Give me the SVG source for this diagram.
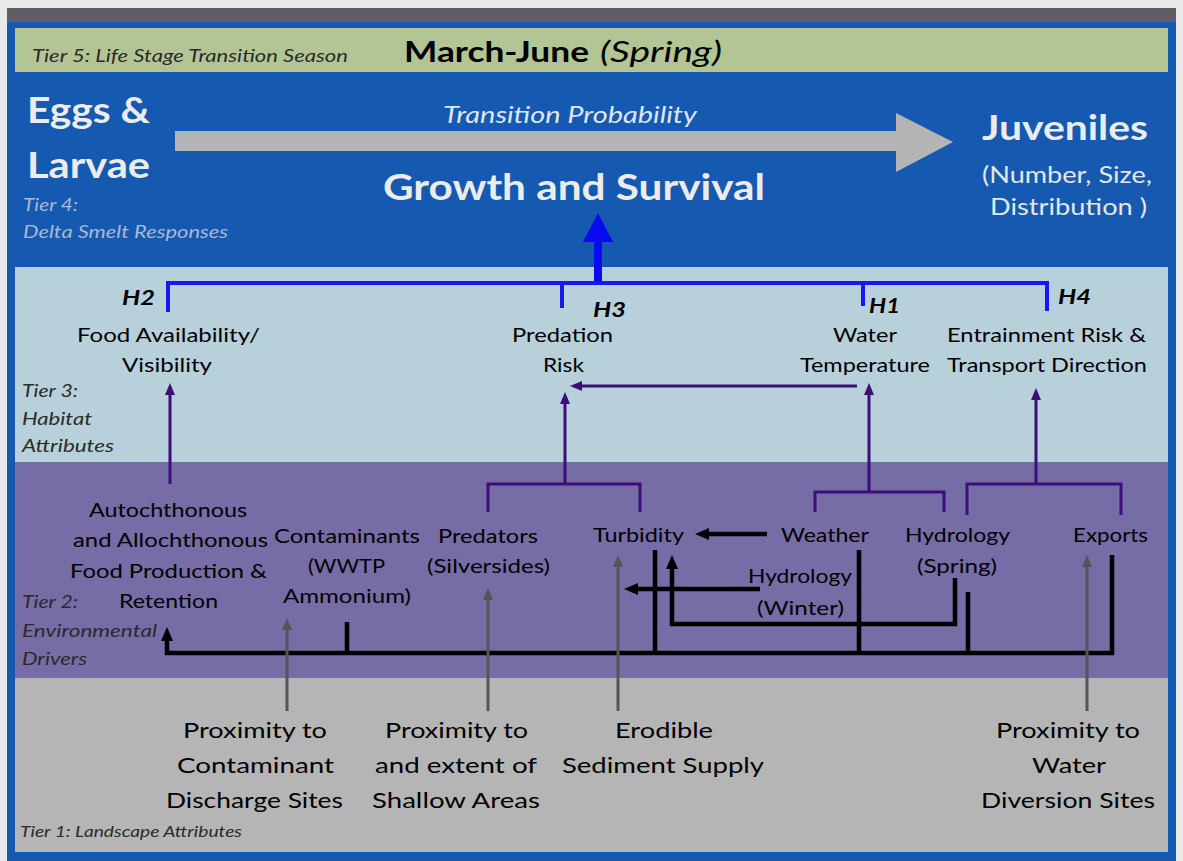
<svg xmlns="http://www.w3.org/2000/svg" width="1183" height="861" viewBox="0 0 1183 861">
<style>
text { font-family: Lato, "Liberation Sans", Arial, sans-serif; }
.lbl { font-size: 20px; fill: #000; }
.lnd { font-size: 22px; fill: #000; }
.tier { font-size: 17px; font-style: italic; fill: #2a2a2a; }
.h { font-size: 21px; font-weight: bold; font-style: italic; fill: #000; }
.big { font-weight: bold; fill: #ececec; }
.blue { fill: none; stroke: #1818ee; stroke-width: 4; }
.pur { fill: none; stroke: #3d0d7a; stroke-width: 3; }
.blk { fill: none; stroke: #000; stroke-width: 4.5; }
.gry { fill: none; stroke: #555; stroke-width: 3; }
</style>
<defs>
<marker id="mp" viewBox="0 0 12 12" refX="6" refY="6" markerWidth="12" markerHeight="12" markerUnits="userSpaceOnUse" orient="auto"><path d="M0,1 L12,6 L0,11 z" fill="#3d0d7a"/></marker>
<marker id="mb" viewBox="0 0 14 14" refX="7" refY="7" markerWidth="14" markerHeight="14" markerUnits="userSpaceOnUse" orient="auto"><path d="M0,1 L14,7 L0,13 z" fill="#000"/></marker>
<marker id="mg" viewBox="0 0 12 10" refX="6" refY="5" markerWidth="12" markerHeight="10" markerUnits="userSpaceOnUse" orient="auto"><path d="M0,0 L12,5 L0,10 z" fill="#555"/></marker>
</defs>

<g id="background">
<rect x="0" y="0" width="1183" height="861" fill="#e9e9e9"/>
<rect x="7" y="8" width="1169" height="14" fill="#5e5f64"/>
<rect x="7" y="22" width="1169" height="839" fill="#1559b0"/>
<rect x="15" y="28" width="1153" height="44" fill="#b3c595"/>
<rect x="15" y="267" width="1153" height="195" fill="#b8d0d9"/>
<rect x="15" y="462" width="1153" height="216" fill="#766ca6"/>
<rect x="15" y="678" width="1153" height="174" fill="#b5b5b5"/>
</g>

<g id="tier-labels">
<text class="tier" x="32" y="62" textLength="316" lengthAdjust="spacingAndGlyphs">Tier 5: Life Stage Transition Season</text>
<text class="tier" x="23" y="211" textLength="55" lengthAdjust="spacingAndGlyphs" style="fill:#a9bad2">Tier 4:</text>
<text class="tier" x="23" y="238" textLength="205" lengthAdjust="spacingAndGlyphs" style="fill:#a9bad2">Delta Smelt Responses</text>
<text class="tier" x="22" y="397" textLength="56" lengthAdjust="spacingAndGlyphs">Tier 3:</text>
<text class="tier" x="22" y="425" textLength="70" lengthAdjust="spacingAndGlyphs">Habitat</text>
<text class="tier" x="22" y="452" textLength="92" lengthAdjust="spacingAndGlyphs">Attributes</text>
<text class="tier" x="22" y="608" textLength="56" lengthAdjust="spacingAndGlyphs">Tier 2:</text>
<text class="tier" x="22" y="637" textLength="135" lengthAdjust="spacingAndGlyphs">Environmental</text>
<text class="tier" x="22" y="665" textLength="65" lengthAdjust="spacingAndGlyphs">Drivers</text>
<text class="tier" x="20" y="837" textLength="222" lengthAdjust="spacingAndGlyphs" style="font-size:15px">Tier 1: Landscape Attributes</text>
</g>

<g id="season">
<text x="404" y="62" textLength="185" lengthAdjust="spacingAndGlyphs" style="font-size:28px;font-weight:bold;fill:#000">March-June</text>
<text x="600" y="62" textLength="122" lengthAdjust="spacingAndGlyphs" style="font-size:28px;font-style:italic;fill:#000">(Spring)</text>
</g>

<g id="connectors">
<path d="M175,131 H896 V113 L953,142 L896,172 V151 H175 Z" fill="#b4b4b4"/>
<rect x="594" y="240" width="8" height="44" fill="#0a0af0"/>
<path d="M583,242 L613,242 L598,213 Z" fill="#0a0af0"/>
<path class="blue" d="M168,312 V283 H1047 V311"/>
<path class="blue" d="M562,283 V308"/>
<path class="blue" d="M863,283 V306"/>

<path class="pur" d="M170,484 V389" marker-end="url(#mp)"/>
<path class="pur" d="M488,512 V484 H640 V512"/>
<path class="pur" d="M565,484 V398" marker-end="url(#mp)"/>
<path class="pur" d="M857,386 H576" marker-end="url(#mp)"/>
<path class="pur" d="M815,512 V492 H944 V512"/>
<path class="pur" d="M869,492 V389" marker-end="url(#mp)"/>
<path class="pur" d="M967,515 V484 H1121 V515"/>
<path class="pur" d="M1036,484 V394" marker-end="url(#mp)"/>

<path class="blk" d="M767,534 H702" marker-end="url(#mb)"/>
<path class="blk" d="M1112,555 V653 H167 V634" marker-end="url(#mb)"/>
<path class="blk" d="M347,622 V653"/>
<path class="blk" d="M655,550 V653"/>
<path class="blk" d="M859,550 V653"/>
<path class="blk" d="M968,592 V653"/>
<path class="blk" d="M955,578 V624 H672 V562" marker-end="url(#mb)"/>
<path class="blk" d="M760,589 H631" marker-end="url(#mb)"/>

<path class="gry" d="M287,711 V624" marker-end="url(#mg)"/>
<path class="gry" d="M488,711 V594" marker-end="url(#mg)"/>
<path class="gry" d="M618,711 V561" marker-end="url(#mg)"/>
<path class="gry" d="M1087,711 V561" marker-end="url(#mg)"/>
</g>

<g id="eggs-larvae">
<text class="big" x="27" y="123" textLength="123" lengthAdjust="spacingAndGlyphs" style="font-size:36px">Eggs &amp;</text>
<text class="big" x="27" y="178" textLength="123" lengthAdjust="spacingAndGlyphs" style="font-size:36px">Larvae</text>
</g>
<g id="transition">
<text x="443" y="123" textLength="254" lengthAdjust="spacingAndGlyphs" style="font-size:23px;font-style:italic;fill:#dde6f2">Transition Probability</text>
</g>
<g id="growth-survival">
<text class="big" x="383" y="200" textLength="382" lengthAdjust="spacingAndGlyphs" style="font-size:37px">Growth and Survival</text>
</g>
<g id="juveniles">
<text class="big" x="982" y="140" textLength="166" lengthAdjust="spacingAndGlyphs" style="font-size:35px">Juveniles</text>
<text x="982" y="183" textLength="170" lengthAdjust="spacingAndGlyphs" style="font-size:23px;fill:#e6e6e6">(Number, Size,</text>
<text x="990" y="215" textLength="157" lengthAdjust="spacingAndGlyphs" style="font-size:23px;fill:#e6e6e6">Distribution )</text>
</g>

<g id="food-availability">
<text class="h" x="122" y="305" textLength="33" lengthAdjust="spacingAndGlyphs">H2</text>
<text class="lbl" x="77" y="342" textLength="183" lengthAdjust="spacingAndGlyphs">Food Availability/</text>
<text class="lbl" x="122" y="372" textLength="90" lengthAdjust="spacingAndGlyphs">Visibility</text>
</g>
<g id="predation-risk">
<text class="h" x="593" y="317" textLength="33" lengthAdjust="spacingAndGlyphs">H3</text>
<text class="lbl" x="512" y="342" textLength="101" lengthAdjust="spacingAndGlyphs">Predation</text>
<text class="lbl" x="543" y="372" textLength="41" lengthAdjust="spacingAndGlyphs">Risk</text>
</g>
<g id="water-temperature">
<text class="h" x="869" y="313" textLength="31" lengthAdjust="spacingAndGlyphs">H1</text>
<text class="lbl" x="833" y="342" textLength="64" lengthAdjust="spacingAndGlyphs">Water</text>
<text class="lbl" x="800" y="372" textLength="130" lengthAdjust="spacingAndGlyphs">Temperature</text>
</g>
<g id="entrainment">
<text class="h" x="1058" y="304" textLength="33" lengthAdjust="spacingAndGlyphs">H4</text>
<text class="lbl" x="947" y="342" textLength="199" lengthAdjust="spacingAndGlyphs">Entrainment Risk &amp;</text>
<text class="lbl" x="947" y="372" textLength="200" lengthAdjust="spacingAndGlyphs">Transport Direction</text>
</g>

<g id="food-production">
<text class="lbl" x="89" y="517" textLength="158" lengthAdjust="spacingAndGlyphs">Autochthonous</text>
<text class="lbl" x="73" y="547" textLength="195" lengthAdjust="spacingAndGlyphs">and Allochthonous</text>
<text class="lbl" x="70" y="578" textLength="197" lengthAdjust="spacingAndGlyphs">Food Production &amp;</text>
<text class="lbl" x="119" y="608" textLength="99" lengthAdjust="spacingAndGlyphs">Retention</text>
</g>
<g id="contaminants">
<text class="lbl" x="274" y="543" textLength="146" lengthAdjust="spacingAndGlyphs">Contaminants</text>
<text class="lbl" x="308" y="573" textLength="77" lengthAdjust="spacingAndGlyphs">(WWTP</text>
<text class="lbl" x="283" y="603" textLength="128" lengthAdjust="spacingAndGlyphs">Ammonium)</text>
</g>
<g id="predators">
<text class="lbl" x="438" y="543" textLength="100" lengthAdjust="spacingAndGlyphs">Predators</text>
<text class="lbl" x="427" y="573" textLength="123" lengthAdjust="spacingAndGlyphs">(Silversides)</text>
</g>
<g id="turbidity">
<text class="lbl" x="593" y="542" textLength="91" lengthAdjust="spacingAndGlyphs">Turbidity</text>
</g>
<g id="weather">
<text class="lbl" x="781" y="542" textLength="88" lengthAdjust="spacingAndGlyphs">Weather</text>
</g>
<g id="hydrology-spring">
<text class="lbl" x="905" y="542" textLength="105" lengthAdjust="spacingAndGlyphs">Hydrology</text>
<text class="lbl" x="917" y="573" textLength="80" lengthAdjust="spacingAndGlyphs">(Spring)</text>
</g>
<g id="hydrology-winter">
<text class="lbl" x="748" y="583" textLength="104" lengthAdjust="spacingAndGlyphs">Hydrology</text>
<text class="lbl" x="757" y="615" textLength="87" lengthAdjust="spacingAndGlyphs">(Winter)</text>
</g>
<g id="exports">
<text class="lbl" x="1073" y="542" textLength="75" lengthAdjust="spacingAndGlyphs">Exports</text>
</g>

<g id="contaminant-sites">
<text class="lnd" x="183" y="738" textLength="144" lengthAdjust="spacingAndGlyphs">Proximity to</text>
<text class="lnd" x="177" y="773" textLength="157" lengthAdjust="spacingAndGlyphs">Contaminant</text>
<text class="lnd" x="166" y="808" textLength="177" lengthAdjust="spacingAndGlyphs">Discharge Sites</text>
</g>
<g id="shallow-areas">
<text class="lnd" x="385" y="738" textLength="143" lengthAdjust="spacingAndGlyphs">Proximity to</text>
<text class="lnd" x="375" y="773" textLength="162" lengthAdjust="spacingAndGlyphs">and extent of</text>
<text class="lnd" x="372" y="808" textLength="168" lengthAdjust="spacingAndGlyphs">Shallow Areas</text>
</g>
<g id="sediment-supply">
<text class="lnd" x="615" y="738" textLength="98" lengthAdjust="spacingAndGlyphs">Erodible</text>
<text class="lnd" x="562" y="773" textLength="202" lengthAdjust="spacingAndGlyphs">Sediment Supply</text>
</g>
<g id="diversion-sites">
<text class="lnd" x="996" y="738" textLength="144" lengthAdjust="spacingAndGlyphs">Proximity to</text>
<text class="lnd" x="1032" y="773" textLength="74" lengthAdjust="spacingAndGlyphs">Water</text>
<text class="lnd" x="981" y="808" textLength="174" lengthAdjust="spacingAndGlyphs">Diversion Sites</text>
</g>
</svg>
